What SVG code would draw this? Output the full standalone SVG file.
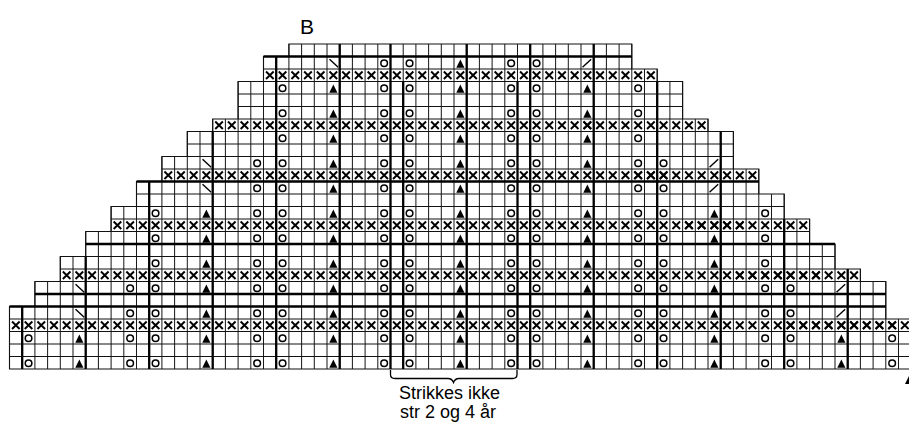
<svg xmlns="http://www.w3.org/2000/svg" xmlns:xlink="http://www.w3.org/1999/xlink" width="909" height="422" viewBox="0 0 909 422">
<style>
.lbl{font-family:"Liberation Sans",Arial,sans-serif;fill:#000}
</style>
<defs>
<path id="x" d="M0.2 0.2L0.8 0.8M0.8 0.2L0.2 0.8" fill="none" stroke="#000" stroke-width="0.15"/>
<circle id="o" cx="0.5" cy="0.54" r="0.26" fill="none" stroke="#000" stroke-width="0.12"/>
<path id="t" d="M0.5 0.24L0.82 0.9H0.18Z" fill="#000"/>
<path id="bs" d="M0.2 0.22L0.88 0.86" fill="none" stroke="#000" stroke-width="0.11"/>
<path id="fs" d="M0.12 0.86L0.8 0.22" fill="none" stroke="#000" stroke-width="0.11"/>
<g id="blk"><use href="#o" x="1"/><use href="#t" x="5"/><use href="#o" x="9"/></g>
<g id="x10"><use href="#x" x="0"/><use href="#x" x="1"/><use href="#x" x="2"/><use href="#x" x="3"/><use href="#x" x="4"/><use href="#x" x="5"/><use href="#x" x="6"/><use href="#x" x="7"/><use href="#x" x="8"/><use href="#x" x="9"/></g>
</defs>
<rect width="909" height="422" fill="#fff"/>
<text class="lbl" x="300" y="33.5" font-size="21">B</text>
<g id="chart" transform="translate(9.5,44) scale(12.7,12.5)">
<g id="grid">
<path d="M21.96 0.5H49.04M19.96 1.5H49.04M19.96 2.5H51.04M17.96 3.5H53.04M17.96 4.5H53.04M17.96 5.5H53.04M15.96 6.5H55.04M13.96 7.5H57.04M13.96 8.5H57.04M11.96 9.5H57.04M11.96 10.5H59.04M9.96 11.5H59.04M9.96 12.5H61.04M7.96 13.5H61.04M7.96 14.5H63.04M5.96 15.5H63.04M5.96 16.5H65.04M3.96 17.5H65.04M3.96 18.5H67.04M1.96 19.5H69.04M1.96 20.5H69.04M-0.04 21.5H69.04M-0.04 22.5H71.04M-0.04 23.5H71.04M-0.04 24.5H71.04M-0.04 25.5H71.04" fill="none" stroke="#1a1a1a" stroke-width="1" stroke-dasharray="0.08 0.92"/>
<path d="M22 0H49V1H22ZM20 1H49V2H20ZM20 2H51V3H20ZM18 3H53V4H18ZM18 4H53V5H18ZM18 5H53V6H18ZM16 6H55V7H16ZM14 7H57V8H14ZM14 8H57V9H14ZM12 9H57V10H12ZM12 10H59V11H12ZM10 11H59V12H10ZM10 12H61V13H10ZM8 13H61V14H8ZM8 14H63V15H8ZM6 15H63V16H6ZM6 16H65V17H6ZM4 17H65V18H4ZM4 18H67V19H4ZM2 19H69V20H2ZM2 20H69V21H2ZM0 21H69V22H0ZM0 22H71V23H0ZM0 23H71V24H0ZM0 24H71V25H0ZM0 25H71V26H0Z" fill="none" stroke="#111" stroke-width="1.1" vector-effect="non-scaling-stroke"/>
<path d="M26 0V26M30 0V26M36 0V26M41 0V26M46 0V26M21 1V26M31 3V26M40 3V26M51 3V26M16 7V26M56 7V26M11 11V26M61 14V26M6 17V26M66 18V26M1 21V26" fill="none" stroke="#000" stroke-width="2.3" vector-effect="non-scaling-stroke"/>
<path d="M20 1H49M10 11H59M6 16H65M2 20H69M0 21H69" fill="none" stroke="#000" stroke-width="2.3" vector-effect="non-scaling-stroke"/>
</g>
<g id="row2"><use href="#bs" x="25" y="1"/><use href="#o" x="29" y="1"/><use href="#blk" x="30" y="1"/><use href="#o" x="41" y="1"/><use href="#fs" x="45" y="1"/></g>
<g id="row3"><use href="#x10" x="20" y="2"/><use href="#x10" x="30" y="2"/><use href="#x10" x="40" y="2"/><use href="#x" x="50" y="2"/></g>
<g id="row4"><use href="#blk" x="20" y="3"/><use href="#blk" x="30" y="3"/><use href="#blk" x="40" y="3"/></g>
<g id="row6"><use href="#blk" x="20" y="5"/><use href="#blk" x="30" y="5"/><use href="#blk" x="40" y="5"/></g>
<g id="row7"><use href="#x10" x="16" y="6"/><use href="#x10" x="26" y="6"/><use href="#x10" x="36" y="6"/><use href="#x10" x="45" y="6"/></g>
<g id="row8"><use href="#blk" x="20" y="7"/><use href="#blk" x="30" y="7"/><use href="#blk" x="40" y="7"/></g>
<g id="row10"><use href="#bs" x="15" y="9"/><use href="#o" x="19" y="9"/><use href="#blk" x="20" y="9"/><use href="#blk" x="30" y="9"/><use href="#blk" x="40" y="9"/><use href="#o" x="51" y="9"/><use href="#fs" x="55" y="9"/></g>
<g id="row11"><use href="#x10" x="12" y="10"/><use href="#x10" x="22" y="10"/><use href="#x10" x="32" y="10"/><use href="#x10" x="42" y="10"/><use href="#x10" x="49" y="10"/></g>
<g id="row12"><use href="#bs" x="15" y="11"/><use href="#o" x="19" y="11"/><use href="#blk" x="20" y="11"/><use href="#blk" x="30" y="11"/><use href="#blk" x="40" y="11"/><use href="#o" x="51" y="11"/><use href="#fs" x="55" y="11"/></g>
<g id="row14"><use href="#blk" x="10" y="13"/><use href="#blk" x="20" y="13"/><use href="#blk" x="30" y="13"/><use href="#blk" x="40" y="13"/><use href="#blk" x="50" y="13"/></g>
<g id="row15"><use href="#x10" x="8" y="14"/><use href="#x10" x="18" y="14"/><use href="#x10" x="28" y="14"/><use href="#x10" x="38" y="14"/><use href="#x10" x="48" y="14"/><use href="#x10" x="53" y="14"/></g>
<g id="row16"><use href="#blk" x="10" y="15"/><use href="#blk" x="20" y="15"/><use href="#blk" x="30" y="15"/><use href="#blk" x="40" y="15"/><use href="#blk" x="50" y="15"/></g>
<g id="row18"><use href="#blk" x="10" y="17"/><use href="#blk" x="20" y="17"/><use href="#blk" x="30" y="17"/><use href="#blk" x="40" y="17"/><use href="#blk" x="50" y="17"/></g>
<g id="row19"><use href="#x10" x="4" y="18"/><use href="#x10" x="14" y="18"/><use href="#x10" x="24" y="18"/><use href="#x10" x="34" y="18"/><use href="#x10" x="44" y="18"/><use href="#x10" x="54" y="18"/><use href="#x10" x="57" y="18"/></g>
<g id="row20"><use href="#bs" x="5" y="19"/><use href="#o" x="9" y="19"/><use href="#blk" x="10" y="19"/><use href="#blk" x="20" y="19"/><use href="#blk" x="30" y="19"/><use href="#blk" x="40" y="19"/><use href="#blk" x="50" y="19"/><use href="#o" x="61" y="19"/><use href="#fs" x="65" y="19"/></g>
<g id="row22"><use href="#bs" x="5" y="21"/><use href="#o" x="9" y="21"/><use href="#blk" x="10" y="21"/><use href="#blk" x="20" y="21"/><use href="#blk" x="30" y="21"/><use href="#blk" x="40" y="21"/><use href="#blk" x="50" y="21"/><use href="#o" x="61" y="21"/><use href="#fs" x="65" y="21"/></g>
<g id="row23"><use href="#x10" x="0" y="22"/><use href="#x10" x="10" y="22"/><use href="#x10" x="20" y="22"/><use href="#x10" x="30" y="22"/><use href="#x10" x="40" y="22"/><use href="#x10" x="50" y="22"/><use href="#x10" x="60" y="22"/><use href="#x10" x="61" y="22"/></g>
<g id="row24"><use href="#blk" x="0" y="23"/><use href="#blk" x="10" y="23"/><use href="#blk" x="20" y="23"/><use href="#blk" x="30" y="23"/><use href="#blk" x="40" y="23"/><use href="#blk" x="50" y="23"/><use href="#blk" x="60" y="23"/></g>
<g id="row26"><use href="#blk" x="0" y="25"/><use href="#blk" x="10" y="25"/><use href="#blk" x="20" y="25"/><use href="#blk" x="30" y="25"/><use href="#blk" x="40" y="25"/><use href="#blk" x="50" y="25"/><use href="#blk" x="60" y="25"/></g>
</g>
<g id="bracket">
<path d="M390.5 370V374.5Q390.5 378.5 395 378.5H448Q452 378.5 453.5 382.5Q455 378.5 459 378.5H512.5Q517 378.5 517 374.5V370" fill="none" stroke="#000" stroke-width="1.3"/>
<text class="lbl" x="399" y="399" font-size="18">Strikkes ikke</text>
<text class="lbl" x="400" y="418" font-size="18">str 2 og 4 år</text>
</g>
<polygon points="905,384 909,376 909,384" fill="#000"/>
</svg>
